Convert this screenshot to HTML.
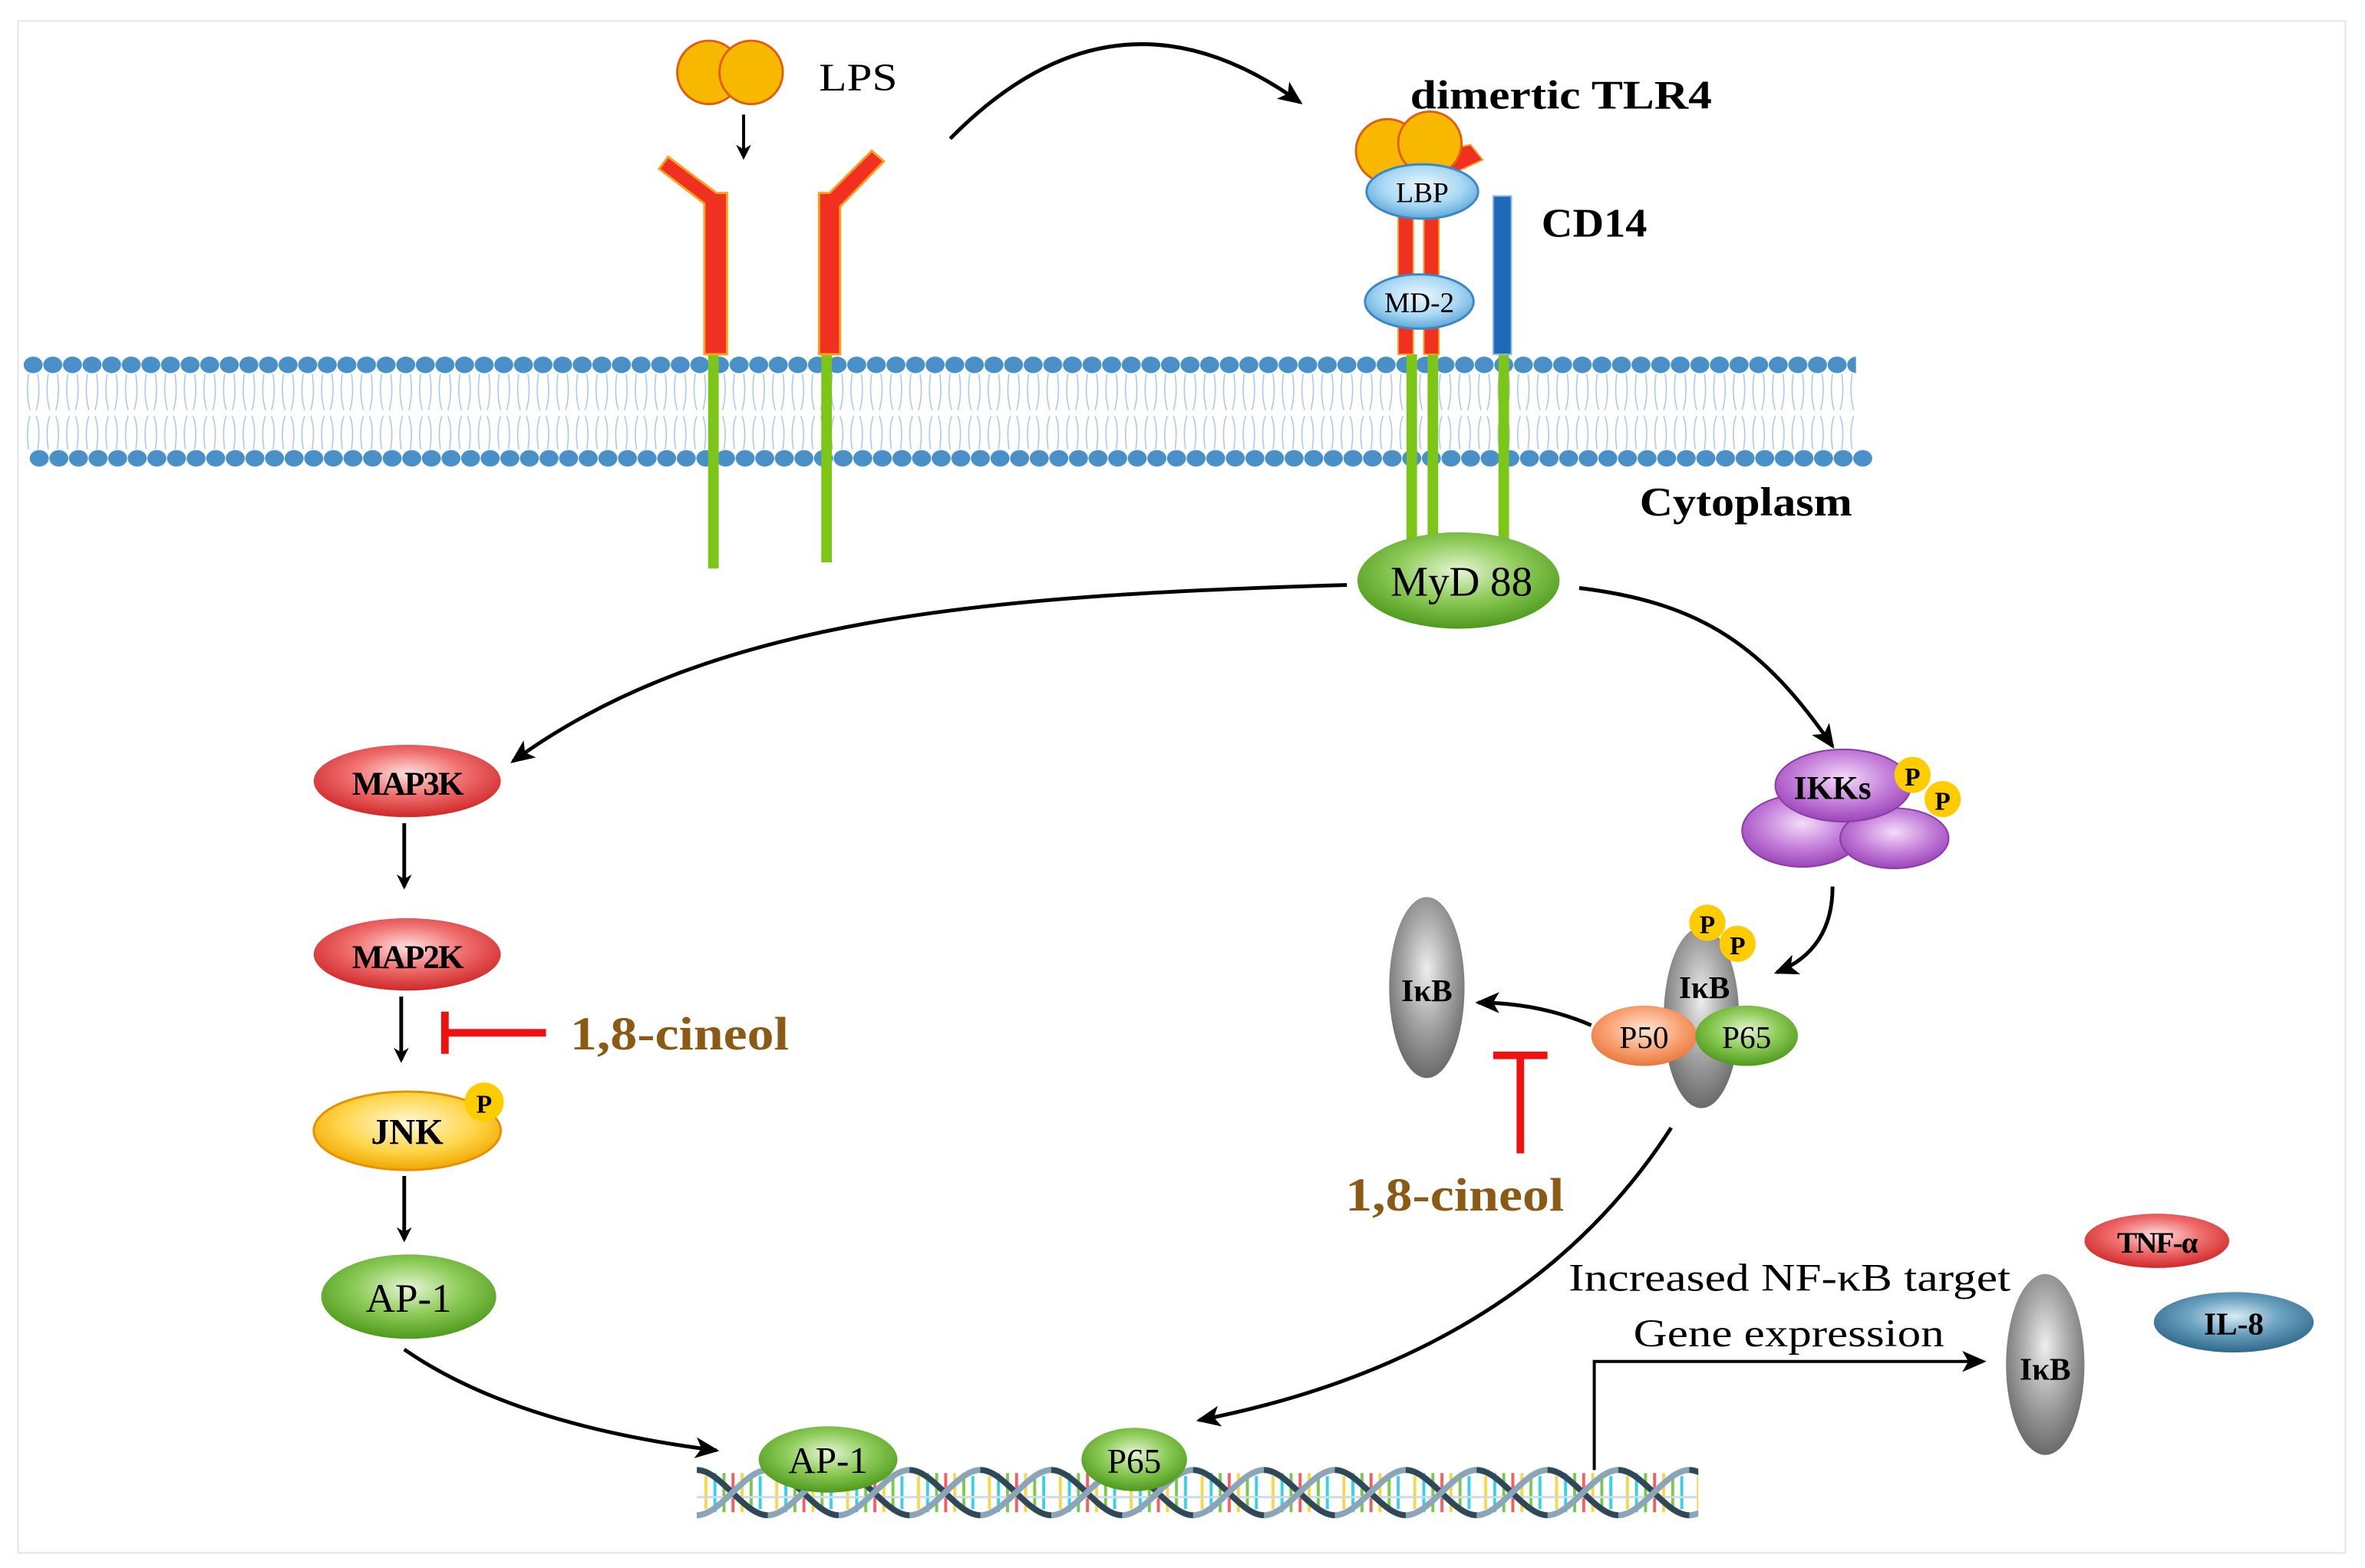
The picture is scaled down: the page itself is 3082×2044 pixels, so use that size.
<!DOCTYPE html>
<html><head><meta charset="utf-8"><style>
html,body{margin:0;padding:0;background:#fff;}
svg{display:block;}
text{font-family:"Liberation Serif",serif;}
</style></head><body>
<svg width="3082" height="2044" viewBox="0 0 1568 1040" preserveAspectRatio="none" xmlns="http://www.w3.org/2000/svg">
<defs>
<radialGradient id="gG" cx="50%" cy="40%" r="60%"><stop offset="0" stop-color="#e6f5d6"/><stop offset="0.5" stop-color="#8fcc5a"/><stop offset="1" stop-color="#4e9a1c"/></radialGradient>
<radialGradient id="gR" cx="50%" cy="40%" r="60%"><stop offset="0" stop-color="#fde0e0"/><stop offset="0.5" stop-color="#f07070"/><stop offset="1" stop-color="#d02828"/></radialGradient>
<radialGradient id="gY" cx="50%" cy="40%" r="60%"><stop offset="0" stop-color="#fff8d8"/><stop offset="0.6" stop-color="#ffd64a"/><stop offset="1" stop-color="#f0a800"/></radialGradient>
<radialGradient id="gGr" cx="50%" cy="40%" r="60%"><stop offset="0" stop-color="#eeeeee"/><stop offset="0.5" stop-color="#a8a8a8"/><stop offset="1" stop-color="#6a6a6a"/></radialGradient>
<radialGradient id="gP" cx="50%" cy="40%" r="60%"><stop offset="0" stop-color="#f4dcfa"/><stop offset="0.6" stop-color="#c27ad8"/><stop offset="1" stop-color="#9a46b8"/></radialGradient>
<radialGradient id="gO" cx="50%" cy="40%" r="60%"><stop offset="0" stop-color="#ffe8d8"/><stop offset="0.6" stop-color="#f8a070"/><stop offset="1" stop-color="#e87840"/></radialGradient>
<radialGradient id="gB" cx="50%" cy="40%" r="60%"><stop offset="0" stop-color="#eef8ff"/><stop offset="0.6" stop-color="#a8d8f4"/><stop offset="1" stop-color="#60a8d8"/></radialGradient>
<radialGradient id="gDB" cx="50%" cy="40%" r="60%"><stop offset="0" stop-color="#d8ecf4"/><stop offset="0.5" stop-color="#6aa0c0"/><stop offset="1" stop-color="#2e6888"/></radialGradient>
<marker id="ah" markerWidth="10" markerHeight="10" refX="8" refY="5" orient="auto" markerUnits="userSpaceOnUse"><path d="M0,0 L10,5 L0,10 L3,5 Z" fill="#000"/></marker>
<marker id="ahs" markerWidth="16" markerHeight="14" refX="14" refY="7" orient="auto" markerUnits="userSpaceOnUse"><path d="M0,0 L16,7 L0,14 L4,7 Z" fill="#000"/></marker>
<pattern id="memTop" x="15.5" y="236" width="13" height="13" patternUnits="userSpaceOnUse">
<ellipse cx="6.5" cy="6" rx="6.3" ry="5.5" fill="#4a90c8"/>
</pattern>
<pattern id="memBot" x="19.5" y="298" width="13" height="13" patternUnits="userSpaceOnUse">
<ellipse cx="6.5" cy="6" rx="6.3" ry="5.5" fill="#4a90c8"/>
</pattern>
<pattern id="memTail" x="15.5" y="248" width="13" height="50" patternUnits="userSpaceOnUse">
<path d="M3.5,0 Q1.5,14 4.5,24 M9.5,0 Q11.5,14 8.5,24 M3.5,50 Q1.5,36 4.5,28 M9.5,50 Q11.5,36 8.5,28" stroke="#a8c8ec" stroke-width="0.8" fill="none"/>
</pattern>
<pattern id="dnaP" x="462" y="973" width="47" height="34" patternUnits="userSpaceOnUse">
<line x1="6" y1="6" x2="6" y2="28" stroke="#f6d84a" stroke-width="2"/>
<line x1="12" y1="4" x2="12" y2="30" stroke="#37d0e8" stroke-width="2"/>
<line x1="18" y1="4" x2="18" y2="30" stroke="#7cc84a" stroke-width="2"/>
<line x1="24" y1="4" x2="24" y2="30" stroke="#f06060" stroke-width="2"/>
<line x1="30" y1="4" x2="30" y2="30" stroke="#f6d84a" stroke-width="2"/>
<line x1="36" y1="4" x2="36" y2="30" stroke="#7cc84a" stroke-width="2"/>
<line x1="42" y1="6" x2="42" y2="28" stroke="#37d0e8" stroke-width="2"/>
<line x1="0" y1="20" x2="47" y2="20" stroke="#d0dae2" stroke-width="1.5"/>
<path d="M0,2 C16,2 31,32 47,32" stroke="#2e4858" stroke-width="4" fill="none"/>
<path d="M0,32 C16,32 31,2 47,2" stroke="#8aa4b8" stroke-width="4" fill="none"/>
</pattern>
</defs>
<rect x="12" y="14" width="1543" height="1016" fill="#fff" stroke="#e4e4e4" stroke-width="1"/>

<!-- membrane -->
<rect x="15.5" y="248" width="1215" height="50" fill="url(#memTail)"/>
<rect x="15.5" y="236" width="1215" height="13" fill="url(#memTop)"/>
<rect x="19.5" y="298" width="1222" height="13" fill="url(#memBot)"/>

<!-- LPS -->
<circle cx="470" cy="48" r="21" fill="#f8b800" stroke="#e06010" stroke-width="1.5"/>
<circle cx="498" cy="48" r="21" fill="#f8b800" stroke="#e06010" stroke-width="1.5"/>
<text x="543" y="60" font-size="26" textLength="52" lengthAdjust="spacingAndGlyphs">LPS</text>
<line x1="493" y1="76" x2="493" y2="104" stroke="#000" stroke-width="2" marker-end="url(#ah)"/>

<!-- receptors -->
<line x1="473" y1="235" x2="473" y2="377" stroke="#7cc618" stroke-width="7"/>
<line x1="548" y1="235" x2="548" y2="373" stroke="#7cc618" stroke-width="7"/>
<polygon points="467,135 437,112 443,104 475,128 482,128 482,235 467,235" fill="#f03020" stroke="#f8a020" stroke-width="1.5"/>
<polygon points="543,128 550,128 578,100 586,107 557,137 557,235 543,235" fill="#f03020" stroke="#f8a020" stroke-width="1.5"/>

<path d="M630,92 Q740,-20 862,68" fill="none" stroke="#000" stroke-width="2.5" marker-end="url(#ahs)"/>

<!-- TLR4 complex -->
<line x1="936" y1="235" x2="936" y2="360" stroke="#7cc618" stroke-width="7"/>
<line x1="950" y1="235" x2="950" y2="360" stroke="#7cc618" stroke-width="7"/>
<line x1="997" y1="235" x2="997" y2="360" stroke="#7cc618" stroke-width="7"/>
<rect x="927" y="105" width="10" height="130" fill="#f03020" stroke="#f8a020" stroke-width="1"/>
<rect x="944" y="105" width="10" height="130" fill="#f03020" stroke="#f8a020" stroke-width="1"/>
<polygon points="955,100 975,96 983,106 957,118" fill="#f03020" stroke="#f8a020"/>
<circle cx="920" cy="100" r="21" fill="#f8b800" stroke="#e06010" stroke-width="1.5"/>
<circle cx="948" cy="95" r="21" fill="#f8b800" stroke="#e06010" stroke-width="1.5"/>
<ellipse cx="943" cy="127" rx="37" ry="18" fill="url(#gB)" stroke="#3a88c8" stroke-width="1.5"/>
<text x="943" y="134" font-size="19" text-anchor="middle">LBP</text>
<ellipse cx="941" cy="200" rx="36" ry="18" fill="url(#gB)" stroke="#3a88c8" stroke-width="1.5"/>
<text x="941" y="207" font-size="19" text-anchor="middle">MD-2</text>
<rect x="990" y="130" width="12" height="105" fill="#1e6ab8" stroke="#8ab8e0"/>
<text x="935" y="72" font-size="27" font-weight="bold" textLength="200" lengthAdjust="spacingAndGlyphs">dimertic TLR4</text>
<text x="1022" y="157" font-size="27" font-weight="bold" textLength="70" lengthAdjust="spacingAndGlyphs">CD14</text>
<text x="1087" y="342" font-size="27" font-weight="bold" textLength="141" lengthAdjust="spacingAndGlyphs">Cytoplasm</text>

<!-- MyD88 -->
<ellipse cx="967" cy="385" rx="67" ry="32" fill="url(#gG)"/>
<text x="969" y="395" font-size="28" text-anchor="middle">MyD 88</text>
<path d="M893,388 C650,395 470,410 340,505" fill="none" stroke="#000" stroke-width="2.5" marker-end="url(#ahs)"/>
<path d="M1047,390 C1130,400 1170,430 1215,495" fill="none" stroke="#000" stroke-width="2.5" marker-end="url(#ahs)"/>

<!-- MAPK branch -->
<ellipse cx="270" cy="518" rx="62" ry="24" fill="url(#gR)"/>
<text x="270" y="527" font-size="22" font-weight="bold" text-anchor="middle" letter-spacing="-1">MAP3K</text>
<line x1="268" y1="546" x2="268" y2="588" stroke="#000" stroke-width="2.5" marker-end="url(#ah)"/>
<ellipse cx="270" cy="633" rx="62" ry="24" fill="url(#gR)"/>
<text x="270" y="642" font-size="22" font-weight="bold" text-anchor="middle" letter-spacing="-1">MAP2K</text>
<line x1="266" y1="661" x2="266" y2="703" stroke="#000" stroke-width="2.5" marker-end="url(#ah)"/>
<line x1="362" y1="685" x2="295" y2="685" stroke="#f01010" stroke-width="5"/>
<line x1="295" y1="671" x2="295" y2="699" stroke="#f01010" stroke-width="5"/>
<text x="378" y="696" font-size="31" font-weight="bold" fill="#8b5a14" textLength="145" lengthAdjust="spacingAndGlyphs">1,8-cineol</text>
<ellipse cx="270" cy="750" rx="62" ry="26" fill="url(#gY)" stroke="#e89000" stroke-width="1.5"/>
<circle cx="321" cy="731" r="13" fill="#ffcc00"/>
<text x="321" y="738" font-size="17" font-weight="bold" text-anchor="middle">P</text>
<text x="270" y="759" font-size="24" font-weight="bold" text-anchor="middle">JNK</text>
<line x1="268" y1="780" x2="268" y2="822" stroke="#000" stroke-width="2.5" marker-end="url(#ah)"/>
<ellipse cx="271" cy="860" rx="58" ry="28" fill="url(#gG)"/>
<text x="271" y="870" font-size="27" text-anchor="middle">AP-1</text>
<path d="M268,895 Q340,945 475,962" fill="none" stroke="#000" stroke-width="2.5" marker-end="url(#ahs)"/>

<!-- IKK -->
<ellipse cx="1195" cy="551" rx="40" ry="24" fill="url(#gP)" stroke="#8a3aa8"/>
<ellipse cx="1256" cy="556" rx="36" ry="20" fill="url(#gP)" stroke="#8a3aa8"/>
<ellipse cx="1222" cy="521" rx="45" ry="24" fill="url(#gP)" stroke="#8a3aa8"/>
<text x="1215" y="530" font-size="22" font-weight="bold" text-anchor="middle">IKKs</text>
<circle cx="1268" cy="514" r="12" fill="#ffcc00"/><text x="1268" y="521" font-size="17" font-weight="bold" text-anchor="middle">P</text>
<circle cx="1288" cy="530" r="12" fill="#ffcc00"/><text x="1288" y="537" font-size="17" font-weight="bold" text-anchor="middle">P</text>
<path d="M1215,588 Q1215,630 1178,645" fill="none" stroke="#000" stroke-width="2.5" marker-end="url(#ahs)"/>

<!-- IkB complex -->
<ellipse cx="1128" cy="675" rx="25" ry="60" fill="url(#gGr)"/>
<circle cx="1132" cy="612" r="12" fill="#ffcc00"/><text x="1132" y="619" font-size="17" font-weight="bold" text-anchor="middle">P</text>
<circle cx="1152" cy="626" r="12" fill="#ffcc00"/><text x="1152" y="633" font-size="17" font-weight="bold" text-anchor="middle">P</text>
<text x="1130" y="662" font-size="21" font-weight="bold" text-anchor="middle">IκB</text>
<ellipse cx="1090" cy="687" rx="35" ry="20" fill="url(#gO)"/>
<text x="1090" y="695" font-size="21" text-anchor="middle">P50</text>
<ellipse cx="1158" cy="687" rx="34" ry="20" fill="url(#gG)"/>
<text x="1158" y="695" font-size="21" text-anchor="middle">P65</text>
<path d="M1055,680 Q1020,665 980,665" fill="none" stroke="#000" stroke-width="2.5" marker-end="url(#ahs)"/>
<ellipse cx="946" cy="655" rx="25" ry="60" fill="url(#gGr)"/>
<text x="946" y="664" font-size="21" font-weight="bold" text-anchor="middle">IκB</text>
<line x1="1008" y1="765" x2="1008" y2="700" stroke="#f01010" stroke-width="5"/>
<line x1="990" y1="700" x2="1026" y2="700" stroke="#f01010" stroke-width="5"/>
<text x="892" y="803" font-size="31" font-weight="bold" fill="#8b5a14" textLength="145" lengthAdjust="spacingAndGlyphs">1,8-cineol</text>
<path d="M1108,748 Q1010,900 795,942" fill="none" stroke="#000" stroke-width="2.5" marker-end="url(#ahs)"/>

<!-- DNA -->
<rect x="462" y="973" width="664" height="34" fill="url(#dnaP)"/>
<ellipse cx="549" cy="968" rx="46" ry="22" fill="url(#gG)"/>
<text x="549" y="977" font-size="25" text-anchor="middle">AP-1</text>
<ellipse cx="752" cy="968" rx="35" ry="21" fill="url(#gG)"/>
<text x="752" y="977" font-size="23" text-anchor="middle">P65</text>

<polyline points="1057,975 1057,903 1315,903" fill="none" stroke="#000" stroke-width="2" marker-end="url(#ahs)"/>
<text x="1040" y="856" font-size="26" textLength="293" lengthAdjust="spacingAndGlyphs">Increased NF-κB target</text>
<text x="1083" y="893" font-size="26" textLength="206" lengthAdjust="spacingAndGlyphs">Gene expression</text>
<ellipse cx="1356" cy="905" rx="26" ry="60" fill="url(#gGr)"/>
<text x="1356" y="915" font-size="21" font-weight="bold" text-anchor="middle">IκB</text>
<ellipse cx="1430" cy="823" rx="48" ry="18" fill="url(#gR)"/>
<text x="1430" y="831" font-size="20" font-weight="bold" text-anchor="middle" letter-spacing="-1">TNF-α</text>
<ellipse cx="1481" cy="877" rx="53" ry="20" fill="url(#gDB)"/>
<text x="1481" y="885" font-size="21" font-weight="bold" text-anchor="middle">IL-8</text>
</svg>
</body></html>
